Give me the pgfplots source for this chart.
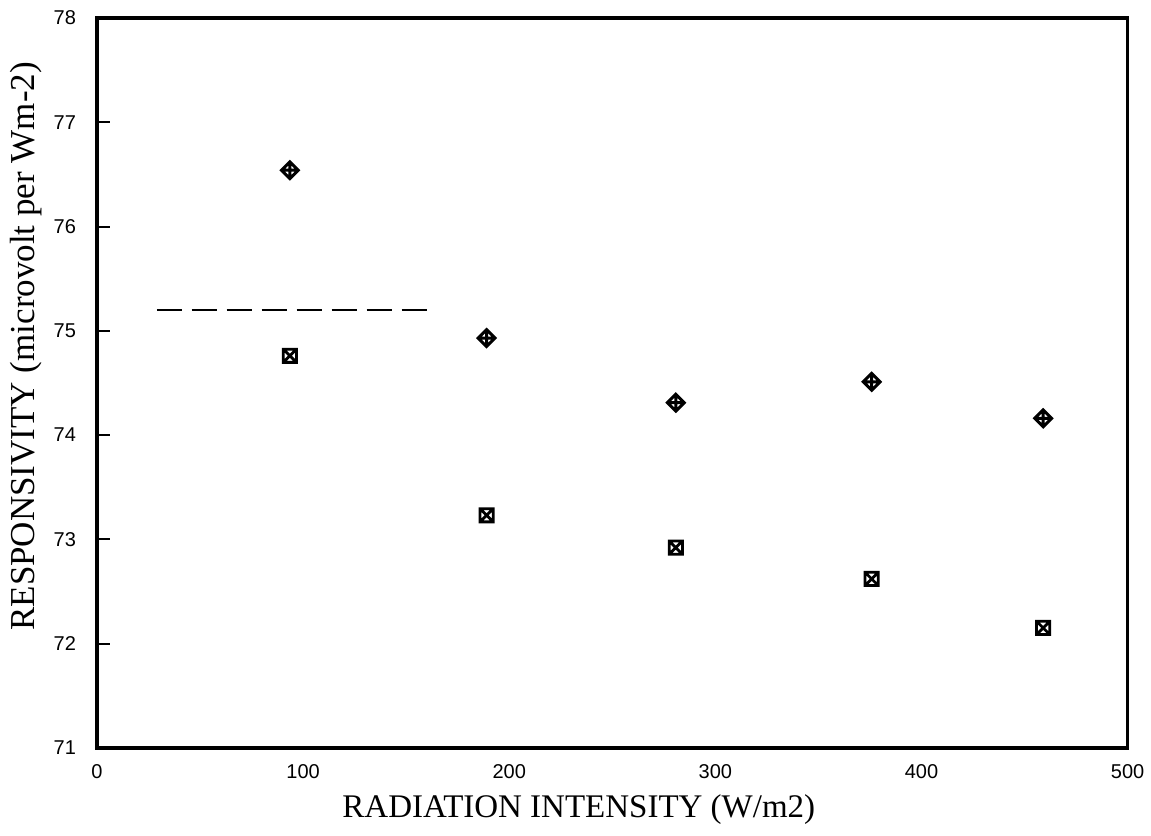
\documentclass[border=0pt]{standalone}
\usepackage{fontspec}
\setmainfont{Liberation Serif}
\newfontfamily\ticksans{Liberation Sans}
\usepackage{pgfplots}
\pgfplotsset{compat=1.18}

% diamond with a plus inside
\pgfdeclareplotmark{diamondplus}{%
  \pgfpathmoveto{\pgfqpoint{0pt}{\pgfplotmarksize}}%
  \pgfpathlineto{\pgfqpoint{\pgfplotmarksize}{0pt}}%
  \pgfpathlineto{\pgfqpoint{0pt}{-\pgfplotmarksize}}%
  \pgfpathlineto{\pgfqpoint{-\pgfplotmarksize}{0pt}}%
  \pgfpathclose
  \pgfpathmoveto{\pgfqpoint{0pt}{\pgfplotmarksize}}%
  \pgfpathlineto{\pgfqpoint{0pt}{-\pgfplotmarksize}}%
  \pgfpathmoveto{\pgfqpoint{-\pgfplotmarksize}{0pt}}%
  \pgfpathlineto{\pgfqpoint{\pgfplotmarksize}{0pt}}%
  \pgfusepathqstroke}
% square with a cross inside
\pgfdeclareplotmark{squarex}{%
  \pgfpathrectangle{\pgfqpoint{-\pgfplotmarksize}{-\pgfplotmarksize}}%
    {\pgfqpoint{2\pgfplotmarksize}{2\pgfplotmarksize}}%
  \pgfpathmoveto{\pgfqpoint{-\pgfplotmarksize}{-\pgfplotmarksize}}%
  \pgfpathlineto{\pgfqpoint{\pgfplotmarksize}{\pgfplotmarksize}}%
  \pgfpathmoveto{\pgfqpoint{-\pgfplotmarksize}{\pgfplotmarksize}}%
  \pgfpathlineto{\pgfqpoint{\pgfplotmarksize}{-\pgfplotmarksize}}%
  \pgfusepathqstroke}

\begin{document}
\begin{tikzpicture}
  % page frame (1151x836 px at 0.5pt/px)
  \path (-48.5pt,-44pt) rectangle (527pt,374pt);
  \begin{axis}[
    at={(0,0)}, anchor=south west,
    width=515.5pt, height=365pt, scale only axis,
    xmin=0, xmax=500, ymin=71, ymax=78,
    xtick={0,100,...,500}, ytick={71,...,78},
    xtick style={draw=none},
    ytick pos=left, ytick align=inside,
    major tick length=6.5pt,
    ytick style={line width=1pt, black},
    axis line style={line width=1.8pt},
    /pgf/number format/assume math mode=true,
    ticklabel style={font=\ticksans\fontsize{10}{11}\selectfont},
    yticklabel style={xshift=-7pt},
    xticklabel style={yshift=-5pt},
    every axis x label/.style={at={(axis description cs:0.4675,0)}, anchor=center, yshift=-31pt},
    every axis y label/.style={at={(axis description cs:-0.069,0.55)}, rotate=90, anchor=center},
    xlabel style={font=\fontsize{16.5}{18}\selectfont},
    ylabel style={font=\fontsize{17.5}{19}\selectfont},
    xlabel={RADIATION INTENSITY (W/m2)},
    ylabel={RESPONSIVITY (microvolt per Wm-2)},
    clip=false,
  ]
    \addplot[only marks, mark=diamondplus, mark size=4.2pt, mark options={line width=1.5pt, black}]
      coordinates {(93.6,76.54) (189,74.93) (280.8,74.31) (375.8,74.51) (459,74.16)};
    \addplot[only marks, mark=squarex, mark size=3.3pt, mark options={line width=1.4pt, black}]
      coordinates {(93.6,74.76) (189,73.23) (280.8,72.92) (375.8,72.62) (459,72.15)};
    \addplot[black, line width=1.1pt, dash pattern=on 12.5pt off 5pt]
      coordinates {(29,75.2) (161,75.2)};
  \end{axis}
\end{tikzpicture}
\end{document}
